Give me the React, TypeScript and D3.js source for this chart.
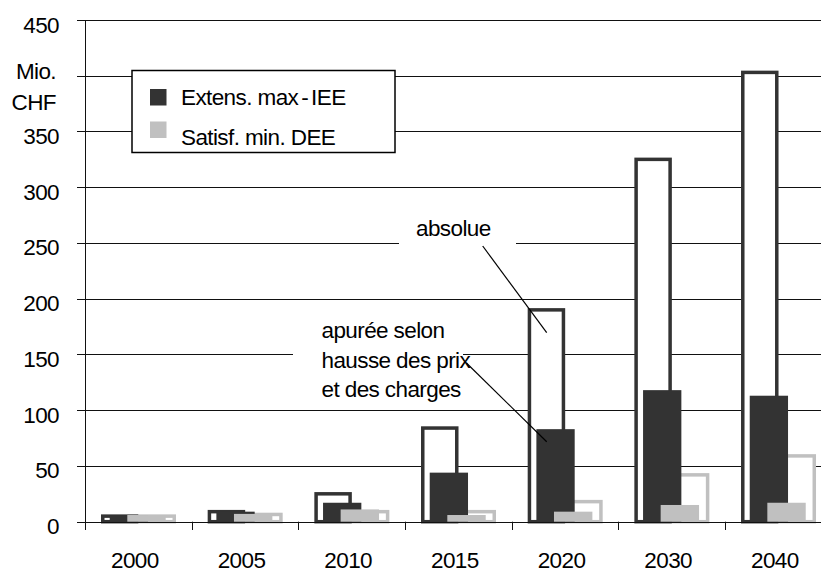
import React from "react";
import * as d3 from "d3";

// Investment costs (Mio. CHF) per year
const years = ["2000", "2005", "2010", "2015", "2020", "2030", "2040"];
// absolute values (outlined bars)
const ieeAbsolute = [5, 9, 25, 84, 190, 325, 403];
const deeAbsolute = [5, 6.5, 9, 9, 18, 42, 59];
// values adjusted for price and cost increases (filled bars)
const ieeDeflated = [6, 9, 17, 44, 83, 118, 113];
const deeDeflated = [6, 7, 11, 6, 9, 15, 17];

const yTicks = [0, 50, 100, 150, 200, 250, 300, 350, 400, 450];
// the 400 slot carries the unit instead of a number
const yTickLabels = ["0", "50", "100", "150", "200", "250", "300", "350", "", "450"];
const legendLabels = ["Extens. max-IEE", "Satisf. min. DEE"];
const unitLines = ["Mio.", "CHF"];
const noteAbsolute = "absolue";
const noteAdjusted = ["apurée selon", "hausse des prix", "et des charges"];

const W = 821;
const H = 573;
const FONT = "'Liberation Sans', Arial, sans-serif";
const FS = 22.5;
const LS = -0.6;
const DARK = "#333333";
const LIGHT = "#c0c0c0";

export default function App() {
  const x = d3.scaleBand<string>().domain(years).range([85, 831.7]).padding(0);
  const y = d3.scaleLinear().domain([0, 450]).range([521.7, 20]);
  const bw = x.bandwidth();
  const f = (px: number) => (px / 106.67) * bw;
  const sw = 3.5;
  const crisp = (v: number) => Math.round(v) + 0.5;

  const outline = (vals: number[], l: number, r: number, color: string) =>
    vals.map((v, i) => {
      const x0 = (x(years[i]) as number) + f(l) + sw / 2;
      const w = f(r - l) - sw;
      return (
        <rect
          key={`${color}-o-${i}`}
          x={x0}
          y={y(v)}
          width={w}
          height={y(0) - y(v)}
          fill="#fff"
          stroke={color}
          strokeWidth={sw}
        />
      );
    });

  const filled = (vals: number[], l: number, r: number, color: string) =>
    vals.map((v, i) => (
      <rect
        key={`${color}-f-${i}`}
        x={(x(years[i]) as number) + f(l)}
        y={y(v)}
        width={f(r - l)}
        height={y(0) - y(v)}
        fill={color}
      />
    ));

  return (
    <svg
      width={W}
      height={H}
      style={{ position: "absolute", left: 0, top: 0, background: "#fff" }}
      fontFamily={FONT}
      fontSize={FS}
      letterSpacing={LS}
    >
      <rect width={W} height={H} fill="#fff" />

      {/* horizontal grid lines with left tick stubs */}
      {yTicks.map((t) => (
        <line
          key={`g${t}`}
          x1={77}
          x2={W}
          y1={crisp(y(t))}
          y2={crisp(y(t))}
          stroke="#111"
          strokeWidth={1}
        />
      ))}
      {/* y tick labels */}
      {yTicks.map((t, i) =>
        yTickLabels[i] ? (
          <text key={`yt${t}`} x={59} y={y(t) + 12.5} textAnchor="end" fill="#000">
            {yTickLabels[i]}
          </text>
        ) : null
      )}
      {unitLines.map((s, i) => (
        <text key={s} x={56} y={79 + i * 31} textAnchor="end" fill="#000">
          {s}
        </text>
      ))}

      {/* y axis */}
      <line x1={85.5} x2={85.5} y1={crisp(y(450))} y2={530} stroke="#111" strokeWidth={1} />
      {/* x axis ticks */}
      {years.map((yr) => (
        <line
          key={`xt${yr}`}
          x1={crisp(x(yr) as number)}
          x2={crisp(x(yr) as number)}
          y1={y(0)}
          y2={530}
          stroke="#111"
          strokeWidth={1}
        />
      ))}

      {/* absolute values: outlined bars */}
      {outline(ieeAbsolute, 16, 53.5, DARK)}
      {outline(deeAbsolute, 53.5, 91, LIGHT)}
      {/* adjusted values: filled bars */}
      {filled(ieeDeflated, 24.7, 63, DARK)}
      {filled(deeDeflated, 42.3, 80.7, LIGHT)}

      {/* baseline */}
      <line x1={77} x2={W} y1={crisp(y(0))} y2={crisp(y(0))} stroke="#111" strokeWidth={1} />

      {/* x labels */}
      {years.map((yr) => (
        <text
          key={`xl${yr}`}
          x={(x(yr) as number) + bw / 2 - 3.5}
          y={568}
          textAnchor="middle"
          fill="#000"
        >
          {yr}
        </text>
      ))}

      {/* legend */}
      <rect x={132} y={70.5} width={263} height={82} fill="#fff" stroke="#000" strokeWidth={1.5} />
      <rect x={150} y={89} width={16.5} height={16.5} fill={DARK} />
      <rect x={150} y={121.5} width={16.5} height={16.5} fill={LIGHT} />
      <text x={181} y={105} fill="#000">
        {legendLabels[0].split("-")[0]}
        <tspan dx={3}>-</tspan>
        <tspan dx={3}>{legendLabels[0].split("-")[1]}</tspan>
      </text>
      <text x={181} y={145} fill="#000">
        {legendLabels[1]}
      </text>

      {/* annotation boxes */}
      <rect x={399} y={222} width={117} height={40} fill="#fff" />
      <text x={416} y={236} fill="#000">
        {noteAbsolute}
      </text>
      <rect x={293} y={312} width={170} height={92} fill="#fff" />
      {noteAdjusted.map((s, i) => (
        <text key={s} x={321.5} y={338.3 + i * 29.2} fill="#000">
          {s}
        </text>
      ))}

      {/* leader lines */}
      <line x1={482.7} y1={246} x2={546.7} y2={332.7} stroke="#000" strokeWidth={1.2} />
      <line x1={466.7} y1={363.3} x2={546.7} y2={441.7} stroke="#000" strokeWidth={1.2} />
    </svg>
  );
}
